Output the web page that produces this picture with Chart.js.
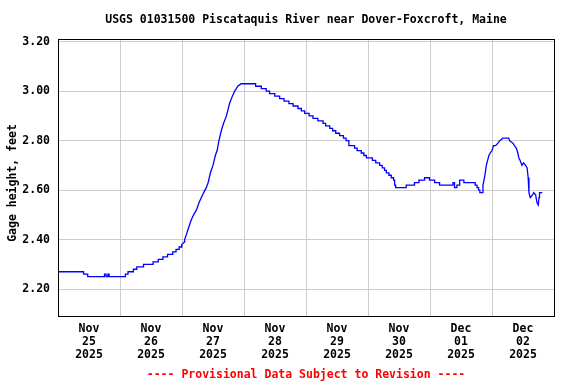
<!DOCTYPE html>
<html>
<head>
<meta charset="utf-8">
<script src="https://cdn.jsdelivr.net/npm/chart.js@4/dist/chart.umd.min.js"></script>
<style>
html,body{margin:0;padding:0;background:#fff;}
#wrap{width:576px;height:384px;position:relative;}
</style>
</head>
<body>
<div id="wrap"><canvas id="c" width="576" height="384"></canvas></div>
<script>
// ---- data (hours since 2025-11-25 00:00, gage height in feet) ----
const titleText = "USGS 01031500 Piscataquis River near Dover-Foxcroft, Maine";
const yAxisTitle = "Gage height, feet";
const footerText = "---- Provisional Data Subject to Revision ----";
const tickMonths = ["Nov","Nov","Nov","Nov","Nov","Nov","Dec","Dec"];
const tickDays = ["25","26","27","28","29","30","01","02"];
const tickYear = "2025";
const yTicks = [2.20, 2.40, 2.60, 2.80, 3.00, 3.20];

const hours = [
  0, 9.9, 9.9, 11.5, 11.5, 18.0, 18.0, 18.6, 18.6, 19.3, 19.3, 19.8, 19.8, 26.1, 26.1, 27.1, 27.1, 29.2, 29.2, 30.5,
  30.5, 33.1, 33.1, 36.8, 36.8, 38.8, 38.8, 40.6, 40.6, 42.4, 42.4, 44.4, 44.4, 45.7, 45.7, 46.9, 46.9, 47.9, 47.9,
  48.9, 49.0, 49.7, 50.6, 51.6, 52.5, 53.6, 54.6, 55.5, 56.4, 57.4, 58.1, 59.0, 60.0, 60.9, 61.6, 62.3, 63.2, 64.1,
  65.2, 66.4, 67.5, 68.4, 69.6, 70.9, 76.5,
  76.5, 78.7, 78.7, 80.6, 80.6, 81.9, 81.9, 83.9, 83.9, 85.8, 85.8, 87.5, 87.5, 89.4, 89.4, 91.0, 91.0, 92.9,
  92.9, 94.2, 94.2, 95.5, 95.5, 97.2, 97.2, 98.7, 98.7, 100.6, 100.6, 102.6, 102.6, 103.6, 103.6, 105.2,
  105.2, 106.3, 106.3, 107.5, 107.5, 109.0, 109.0, 110.5, 110.5, 111.5, 111.5, 112.6, 112.6, 114.8,
  114.8, 115.8, 115.8, 117.4, 117.4, 118.4, 118.4, 119.4, 119.4, 121.7, 121.7, 123.0, 123.0, 124.5,
  124.5, 125.5, 125.5, 126.4, 126.4, 127.1, 127.1, 128.1, 128.1, 129.0, 129.0, 129.9, 129.9, 130.3,
  130.3, 130.7, 130.7, 134.8, 134.8, 138.0, 138.0, 139.7, 139.7, 141.9, 141.9, 143.8, 143.8, 145.8,
  145.8, 147.7, 147.7, 152.9, 152.9, 153.5, 153.5, 154.4, 154.4, 155.5, 155.5, 157.1, 157.1, 161.5,
  161.5, 162.2, 162.2, 162.8, 162.8, 163.3, 163.3, 164.2,
  164.5, 164.9, 165.4, 165.8, 166.3, 166.8, 167.3, 168.0, 168.6, 169.4, 170.3, 171.0, 172.2, 174.5, 174.8,
  176.1, 176.7, 177.4, 178.0, 178.4, 178.9, 179.6, 180.2, 181.0, 181.6, 182.0, 182.3, 182.8, 183.6, 184.2,
  184.9, 185.4, 185.9, 186.2, 186.4, 187.5
];
const heights = [
  2.27, 2.27, 2.26, 2.26, 2.25, 2.25, 2.26, 2.26, 2.25, 2.25, 2.26, 2.26, 2.25, 2.25, 2.26, 2.26, 2.27, 2.27, 2.28, 2.28,
  2.29, 2.29, 2.30, 2.30, 2.31, 2.31, 2.32, 2.32, 2.33, 2.33, 2.34, 2.34, 2.35, 2.35, 2.36, 2.36, 2.37, 2.37, 2.38,
  2.39, 2.40, 2.42, 2.45, 2.48, 2.50, 2.52, 2.55, 2.57, 2.59, 2.61, 2.63, 2.67, 2.70, 2.74, 2.76, 2.80, 2.84, 2.87,
  2.90, 2.95, 2.98, 3.00, 3.02, 3.03, 3.03,
  3.02, 3.02, 3.01, 3.01, 3.00, 3.00, 2.99, 2.99, 2.98, 2.98, 2.97, 2.97, 2.96, 2.96, 2.95, 2.95, 2.94, 2.94,
  2.93, 2.93, 2.92, 2.92, 2.91, 2.91, 2.90, 2.90, 2.89, 2.89, 2.88, 2.88, 2.87, 2.87, 2.86, 2.86,
  2.85, 2.85, 2.84, 2.84, 2.83, 2.83, 2.82, 2.82, 2.81, 2.81, 2.80, 2.80, 2.78, 2.78,
  2.77, 2.77, 2.76, 2.76, 2.75, 2.75, 2.74, 2.74, 2.73, 2.73, 2.72, 2.72, 2.71, 2.71,
  2.70, 2.70, 2.69, 2.69, 2.68, 2.68, 2.67, 2.67, 2.66, 2.66, 2.65, 2.65, 2.64, 2.64,
  2.62, 2.62, 2.61, 2.61, 2.62, 2.62, 2.63, 2.63, 2.64, 2.64, 2.65, 2.65, 2.64, 2.64,
  2.63, 2.63, 2.62, 2.62, 2.63, 2.63, 2.61, 2.61, 2.62, 2.62, 2.64, 2.64, 2.63, 2.63,
  2.62, 2.62, 2.61, 2.61, 2.60, 2.60, 2.59, 2.59,
  2.62, 2.64, 2.67, 2.70, 2.72, 2.74, 2.75, 2.76, 2.78, 2.78, 2.79, 2.80, 2.81, 2.81, 2.80,
  2.79, 2.78, 2.77, 2.75, 2.73, 2.72, 2.70, 2.71, 2.70, 2.69, 2.65, 2.59, 2.57, 2.58, 2.59,
  2.58, 2.55, 2.54, 2.57, 2.59, 2.59
];

const FONT = "'DejaVu Sans Mono', monospace";
const FS = 11.5;

const points = hours.map((h, i) => ({x: h, y: heights[i]}));

const decorPlugin = {
  id: 'decor',
  beforeDraw(chart) {
    const ctx = chart.ctx;
    ctx.save();
    ctx.fillStyle = '#ffffff';
    ctx.fillRect(0, 0, chart.width, chart.height);
    ctx.restore();
  },
  afterDraw(chart) {
    const ctx = chart.ctx;
    const a = chart.chartArea;
    ctx.save();
    // plot border
    ctx.strokeStyle = '#000000';
    ctx.lineWidth = 1;
    ctx.strokeRect(Math.round(a.left) + 0.5, Math.round(a.top) + 0.5,
                   Math.round(a.right - a.left), Math.round(a.bottom - a.top));
    const cx = (a.left + a.right) / 2;
    ctx.font = 'bold ' + FS + 'px ' + FONT;
    ctx.textAlign = 'center';
    ctx.textBaseline = 'middle';
    // title
    ctx.fillStyle = '#000000';
    ctx.fillText(titleText, cx, 20);
    // footer
    ctx.fillStyle = '#ff0000';
    ctx.fillText(footerText, cx, 375);
    // y axis title
    ctx.fillStyle = '#000000';
    ctx.translate(13, 183);
    ctx.rotate(-Math.PI / 2);
    ctx.fillText(yAxisTitle, 0, 0);
    ctx.restore();
  }
};

new Chart(document.getElementById('c'), {
  type: 'line',
  data: {
    datasets: [{
      data: points,
      borderColor: '#0000ff',
      borderWidth: 1.3,
      pointRadius: 0,
      tension: 0,
      fill: false
    }]
  },
  options: {
    responsive: false,
    animation: false,
    devicePixelRatio: 1,
    layout: { padding: { top: 39, right: 22, left: 0, bottom: 0 } },
    plugins: { legend: { display: false }, tooltip: { enabled: false }, title: { display: false } },
    scales: {
      x: {
        type: 'linear',
        min: 0,
        max: 192,
        afterFit(s) { s.height = 68; },
        afterBuildTicks(s) {
          const t = [];
          for (let h = 0; h <= 192; h += 12) t.push({value: h});
          s.ticks = t;
        },
        grid: {
          drawTicks: false,
          lineWidth: 1,
          color: (c) => (c.tick && c.tick.value % 24 === 0) ? '#cccccc' : 'rgba(0,0,0,0)'
        },
        border: { display: false },
        ticks: {
          autoSkip: false,
          maxRotation: 0,
          minRotation: 0,
          padding: 7,
          color: '#000000',
          font: { family: FONT, size: FS, weight: 'bold', lineHeight: 13 / FS },
          callback: (v) => {
            if (v % 24 !== 12) return '';
            const i = Math.floor(v / 24);
            return [tickMonths[i], tickDays[i], tickYear];
          }
        }
      },
      y: {
        type: 'linear',
        min: 2.091,
        max: 3.211,
        afterFit(s) { s.width = 58; },
        afterBuildTicks(s) { s.ticks = yTicks.map(v => ({value: v})); },
        grid: { drawTicks: false, color: '#cccccc', lineWidth: 1 },
        border: { display: false },
        ticks: {
          padding: 8,
          color: '#000000',
          font: { family: FONT, size: FS, weight: 'bold' },
          callback: (v) => Number(v).toFixed(2)
        }
      }
    }
  },
  plugins: [decorPlugin]
});
</script>
</body>
</html>
